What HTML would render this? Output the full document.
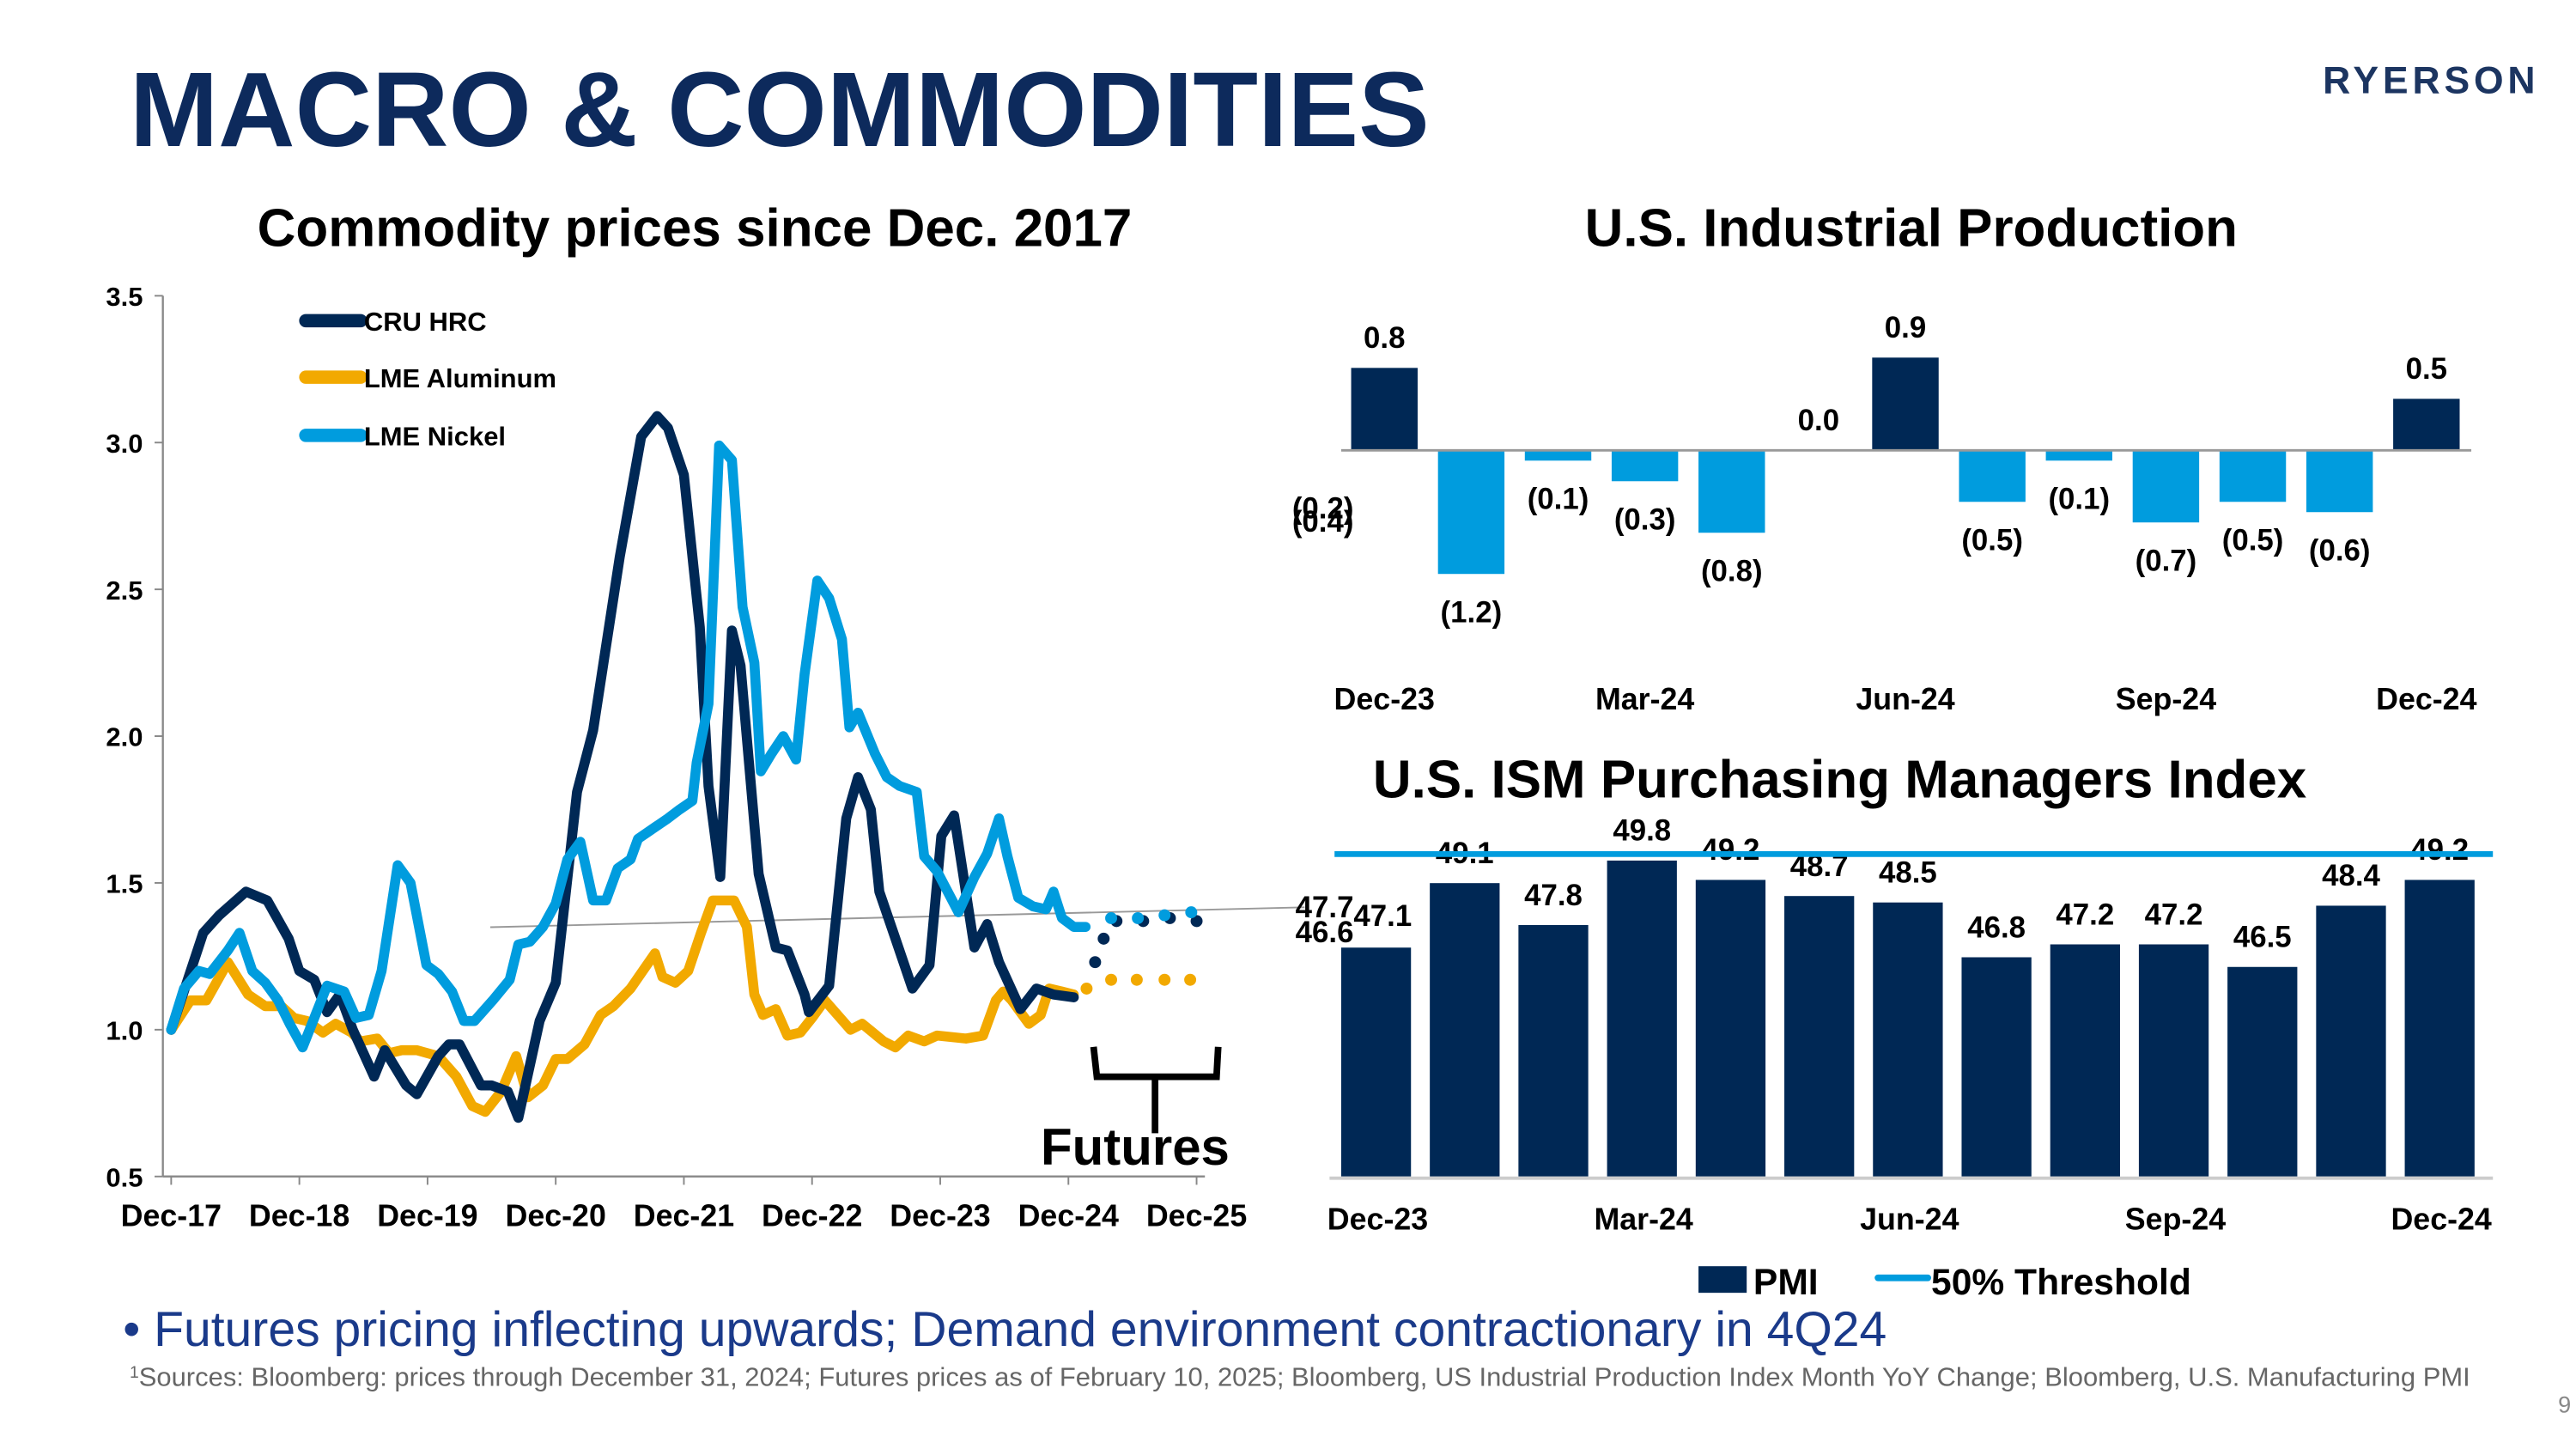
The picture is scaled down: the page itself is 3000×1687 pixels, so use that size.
<!DOCTYPE html>
<html><head><meta charset="utf-8"><style>
html,body{margin:0;padding:0;background:#fff;}
svg{display:block;}
text{font-family:"Liberation Sans",Arial,sans-serif;}
</style></head><body>
<svg id="s" width="3000" height="1687" viewBox="0 0 1550 872" preserveAspectRatio="none" xmlns="http://www.w3.org/2000/svg">
<text x="78" y="88" font-size="64" font-weight="bold" fill="#0d2a5c">MACRO &amp; COMMODITIES</text>
<text x="1528" y="56" text-anchor="end" font-size="23" font-weight="bold" fill="#1c3561" letter-spacing="2.5">RYERSON</text>
<text x="418" y="148" text-anchor="middle" font-size="32" font-weight="bold" fill="#000">Commodity prices since Dec. 2017</text>
<text x="1150" y="148" text-anchor="middle" font-size="32" font-weight="bold" fill="#000">U.S. Industrial Production</text>
<text x="1107" y="480" text-anchor="middle" font-size="32" font-weight="bold" fill="#000">U.S. ISM Purchasing Managers Index</text>
<text x="74" y="810" font-size="29.5" fill="#1a3a8a">• Futures pricing inflecting upwards; Demand environment contractionary in 4Q24</text>
<text x="78" y="834" font-size="16" fill="#666"><tspan font-size="10" dy="-5">1</tspan><tspan dy="5">Sources: Bloomberg: prices through December 31, 2024; Futures prices as of February 10, 2025; Bloomberg, US Industrial Production Index Month YoY Change; Bloomberg, U.S. Manufacturing PMI</tspan></text>
<text x="1547" y="850" text-anchor="end" font-size="14" fill="#888">9</text>
<g id="left"></g>
<g id="ip"></g>
<g id="pmi"></g>
</svg>
<script>
// ---- Commodity chart data (month index from Dec-17) ----
const hrcMonths=[0,3,4.5,7,9,11,12,13.4,14.6,15.8,17,19,20,22,23,25,26,27,29,30,31.5,32.5,34.5,36,38,39.5,42,44,45.5,46.5,48,49.5,50.3,51.4,52.5,53.3,55,56.6,57.7,59.3,59.7,61.6,63.2,64.3,65.5,66.3,67.8,69.4,71,72.1,73.3,75.2,76.4,77.5,79.5,81,82.6,84.5];
const hrcValues=[1.0,1.33,1.39,1.47,1.44,1.31,1.2,1.17,1.06,1.12,1.0,0.84,0.93,0.81,0.78,0.91,0.95,0.95,0.81,0.81,0.79,0.7,1.03,1.16,1.81,2.02,2.61,3.02,3.09,3.05,2.89,2.37,1.83,1.52,2.36,2.24,1.53,1.28,1.27,1.12,1.06,1.15,1.72,1.86,1.75,1.47,1.31,1.14,1.22,1.66,1.73,1.28,1.36,1.23,1.07,1.14,1.12,1.11];
const alMonths=[0,1.8,3.3,5.3,7.2,8.8,10.3,11.5,12.7,14.2,15.4,16.9,17.7,19.3,20.4,21.6,23,25,26.7,28.2,29.4,30.9,32.3,33.4,34.8,36,37.1,38.7,40.2,41.4,43,45.3,46,47.2,48.4,49.6,50.7,52.7,53.9,54.6,55.4,56.6,57.7,58.9,60,61.2,62.4,63.6,64.7,66.7,67.8,69,70.5,71.7,74.4,76,77.2,77.9,78.7,80.3,81.4,82.2,83.4,84.5];
const alValues=[1.0,1.1,1.1,1.23,1.12,1.08,1.08,1.04,1.03,0.99,1.02,0.99,0.96,0.97,0.92,0.93,0.93,0.91,0.84,0.74,0.72,0.79,0.91,0.77,0.81,0.9,0.9,0.95,1.05,1.08,1.14,1.26,1.18,1.16,1.2,1.33,1.44,1.44,1.35,1.12,1.05,1.07,0.98,0.99,1.04,1.1,1.05,1.0,1.02,0.96,0.94,0.98,0.96,0.98,0.97,0.98,1.1,1.13,1.1,1.02,1.05,1.14,1.13,1.12];
const niMonths=[0,1.2,2.6,3.6,5.3,6.4,7.6,8.8,10,11.1,12.3,13.4,14.6,16.2,17.3,18.5,19.7,21.2,22.4,23.9,25,26.3,27.4,28.4,30.1,31.7,32.5,33.6,34.8,36,37.1,38.3,39.5,40.7,41.8,43,43.7,45.3,46.5,47.6,48.8,49.2,50.3,51.3,52.5,53.5,54.6,55.2,56.2,57.3,58.5,59.3,60.5,61.6,62.8,63.5,64.3,65.9,67,68.2,69.8,70.5,71.7,73.7,75.2,76.4,77.5,78.3,79.3,80.7,81.9,82.6,83.4,84.5,85.6];
const niValues=[1.0,1.14,1.2,1.19,1.27,1.33,1.2,1.16,1.1,1.02,0.94,1.04,1.15,1.13,1.04,1.05,1.2,1.56,1.5,1.22,1.19,1.13,1.03,1.03,1.1,1.17,1.29,1.3,1.35,1.43,1.58,1.64,1.44,1.44,1.55,1.58,1.65,1.69,1.72,1.75,1.78,1.91,2.11,2.99,2.94,2.44,2.25,1.88,1.94,2.0,1.92,2.21,2.53,2.47,2.33,2.03,2.08,1.94,1.86,1.83,1.81,1.59,1.54,1.4,1.52,1.6,1.72,1.59,1.45,1.42,1.41,1.47,1.38,1.35,1.35];
const hrcFutMonths=[86.5,87.3,88.5,91,93.5,96];
const hrcFutValues=[1.23,1.31,1.37,1.37,1.38,1.37];
const alFutMonths=[85.7,88,90.4,93,95.4];
const alFutValues=[1.14,1.17,1.17,1.17,1.17];
const niFutMonths=[88,90.5,93,95.5];
const niFutValues=[1.38,1.38,1.39,1.40];
const yTicks=[0.5,1.0,1.5,2.0,2.5,3.0,3.5];
const xTickLabels=["Dec-17","Dec-18","Dec-19","Dec-20","Dec-21","Dec-22","Dec-23","Dec-24","Dec-25"];
// ---- Industrial production ----
const ipLabels=["Dec-23","Jan-24","Feb-24","Mar-24","Apr-24","May-24","Jun-24","Jul-24","Aug-24","Sep-24","Oct-24","Nov-24","Dec-24"];
const ipValues=[0.8,-1.2,-0.1,-0.3,-0.8,0.0,0.9,-0.5,-0.1,-0.7,-0.5,-0.6,0.5];
const ipAxisLabels=["Dec-23","Mar-24","Jun-24","Sep-24","Dec-24"];
// ---- PMI ----
const pmiValues=[47.1,49.1,47.8,49.8,49.2,48.7,48.5,46.8,47.2,47.2,46.5,48.4,49.2];
const pmiThreshold=50;
const pmiAxisLabels=["Dec-23","Mar-24","Jun-24","Sep-24","Dec-24"];

const NS="http://www.w3.org/2000/svg";
function mk(parent,tag,attrs,txt){const e=document.createElementNS(NS,tag);for(const k in attrs)e.setAttribute(k,attrs[k]);if(txt!==undefined)e.textContent=txt;parent.appendChild(e);return e;}
const NAVY="#002855",ORANGE="#f2a900",BLUE="#009cde";

// Left chart
const L=document.getElementById('left');
const lx=m=>103+m*(617/96);
const ly=v=>708-(v-0.5)*(530/3);
let e=mk(L,'line',{x1:98,y1:178,x2:98,y2:708,stroke:'#888','stroke-width':1.2});

e=mk(L,'line',{x1:98,y1:708,x2:725,y2:708,stroke:'#888','stroke-width':1.2});

yTicks.forEach(v=>{
  mk(L,'line',{x1:93,y1:ly(v),x2:98,y2:ly(v),stroke:'#888'});
  e=mk(L,'text',{x:86,y:ly(v)+6,'text-anchor':'end','font-size':16,'font-weight':'bold'},v.toFixed(1));
  
});
xTickLabels.forEach((t,i)=>{
  const x=lx(i*12);
  mk(L,'line',{x1:x,y1:708,x2:x,y2:713,stroke:'#888'});
  e=mk(L,'text',{x:x,y:738,'text-anchor':'middle','font-size':18.5,'font-weight':'bold'},t);
  
});
e=mk(L,'line',{x1:295,y1:558,x2:785,y2:546,stroke:'#999','stroke-width':1});

function series(ms,vs,col,name){
  const d=ms.map((m,i)=>(i?'L':'M')+lx(m).toFixed(1)+' '+ly(vs[i]).toFixed(1)).join(' ');
  const p=mk(L,'path',{d:d,fill:'none',stroke:col,'stroke-width':6,'stroke-linejoin':'round','stroke-linecap':'round'});
  
  
}
function dots(ms,vs,col,name){
  ms.forEach((m,i)=>{const c=mk(L,'circle',{cx:lx(m),cy:ly(vs[i]),r:3.6,fill:col});
  
  });
}
series(alMonths,alValues,ORANGE,'aluminum-line');
series(hrcMonths,hrcValues,NAVY,'hrc-line');
series(niMonths,niValues,BLUE,'nickel-line');
dots(alFutMonths,alFutValues,ORANGE,'aluminum-futures-dot');
dots(hrcFutMonths,hrcFutValues,NAVY,'hrc-futures-dot');
dots(niFutMonths,niFutValues,BLUE,'nickel-futures-dot');
[["CRU HRC",NAVY,193],["LME Aluminum",ORANGE,227],["LME Nickel",BLUE,262]].forEach(l=>{
  mk(L,'line',{x1:184,y1:l[2],x2:217,y2:l[2],stroke:l[1],'stroke-width':8,'stroke-linecap':'round'});
  e=mk(L,'text',{x:219,y:l[2]+6,'font-size':16,'font-weight':'bold'},l[0]);
  
});
e=mk(L,'path',{d:'M658 630 L660 648 L732 648 L733 630 M695 648 L695 682',fill:'none',stroke:'#000','stroke-width':4});

e=mk(L,'text',{x:683,y:701,'text-anchor':'middle','font-size':31,'font-weight':'bold'},'Futures');


// Industrial production
const I=document.getElementById('ip');
const ix=i=>833+i*52.25, iy=v=>271-v*62;
ipValues.forEach((v,i)=>{
  const y0=Math.min(iy(0),iy(v)),h=Math.abs(iy(v)-iy(0));
  const r=mk(I,'rect',{x:ix(i)-20,y:y0,width:40,height:h,fill:v>0?NAVY:BLUE});
  
  
  const lbl=v<0?'('+Math.abs(v).toFixed(1)+')':v.toFixed(1);
  const ty=v<0?iy(v)+29:(v>0?iy(v)-12:iy(0)-12);
  const t=mk(I,'text',{x:ix(i),y:ty,'text-anchor':'middle','font-size':18,'font-weight':'bold'},lbl);
  
  
});
mk(I,'line',{x1:807,y1:271,x2:1487,y2:271,stroke:'#999','stroke-width':1.5});
e=mk(I,'text',{x:796,y:312,'text-anchor':'middle','font-size':18,'font-weight':'bold'},'(0.2)');

e=mk(I,'text',{x:796,y:320,'text-anchor':'middle','font-size':18,'font-weight':'bold'},'(0.4)');

ipAxisLabels.forEach((t,k)=>{
  e=mk(I,'text',{x:ix(k*3),y:427,'text-anchor':'middle','font-size':18.5,'font-weight':'bold'},t);
  
});

// PMI
const P=document.getElementById('pmi');
const px=i=>828+i*53.33, py=v=>708-(v-40)*19.4;
pmiValues.forEach((v,i)=>{
  const r=mk(P,'rect',{x:px(i)-21,y:py(v),width:42,height:py(40)-py(v),fill:NAVY});
  
  
  const t=mk(P,'text',{x:px(i)+(i===0?4:0),y:py(v)-(i===0?13:12),'text-anchor':'middle','font-size':18,'font-weight':'bold'},v.toFixed(1));
  
  
});
e=mk(P,'text',{x:797,y:552,'text-anchor':'middle','font-size':18,'font-weight':'bold'},'47.7');

e=mk(P,'text',{x:797,y:567,'text-anchor':'middle','font-size':18,'font-weight':'bold'},'46.6');

mk(P,'line',{x1:800,y1:709,x2:1500,y2:709,stroke:'#ccc','stroke-width':2});
e=mk(P,'line',{x1:803,y1:py(pmiThreshold),x2:1500,y2:py(pmiThreshold),stroke:BLUE,'stroke-width':3.5});

pmiAxisLabels.forEach((t,k)=>{
  e=mk(P,'text',{x:px(k*3)+1,y:740,'text-anchor':'middle','font-size':18.5,'font-weight':'bold'},t);
  
});
e=mk(P,'rect',{x:1022,y:762,width:29,height:16,fill:NAVY});

e=mk(P,'text',{x:1055,y:779,'font-size':22,'font-weight':'bold'},'PMI');

e=mk(P,'line',{x1:1130,y1:769,x2:1160,y2:769,stroke:BLUE,'stroke-width':4,'stroke-linecap':'round'});

e=mk(P,'text',{x:1162,y:779,'font-size':22,'font-weight':'bold'},'50% Threshold');

</script>
</body></html>
